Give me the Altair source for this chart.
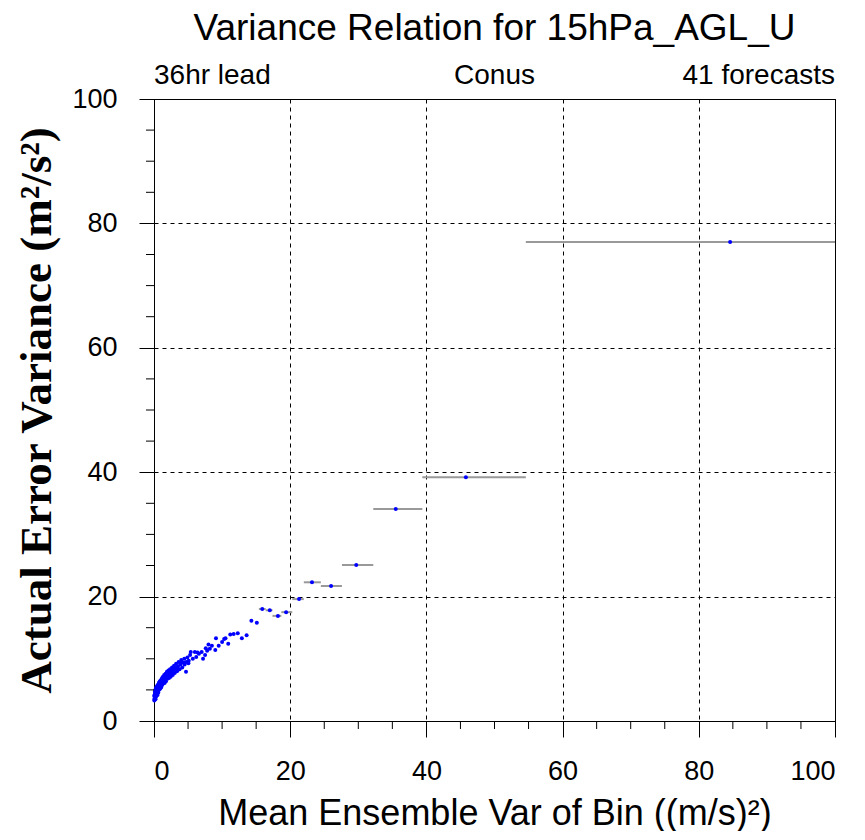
import altair as alt
import pandas as pd

# Scatter of bin means (mean ensemble variance, actual error variance)
bin_x = [0.05, 0.08, 0.10, 0.12, 0.15, 0.18, 0.20, 0.22, 0.25, 0.28, 0.30, 0.33, 0.36,
         0.40, 0.42, 0.45, 0.50, 0.52, 0.55, 0.60, 0.63, 0.67, 0.70, 0.74, 0.78, 0.82,
         0.86, 0.90, 0.95, 1.00, 1.05, 1.10, 1.15, 1.20, 1.26, 1.32, 1.38, 1.45, 1.50,
         1.56, 1.62, 1.70, 1.76, 1.83, 1.90, 1.97, 2.05, 2.12, 2.20, 2.28, 2.36, 2.45,
         2.55, 2.65, 2.75, 2.85, 2.95, 3.05, 3.15, 3.25, 3.38, 3.50, 3.62, 3.75, 3.88,
         4.00, 4.15, 4.30, 4.45, 4.70, 4.75, 4.90, 5.05, 5.10, 5.40, 5.70, 6.00, 6.20,
         6.60, 7.00, 7.20, 7.50, 7.60, 7.80, 8.20, 8.50, 9.00, 9.10, 9.50, 10.0, 10.3,
         10.5, 10.9, 11.7, 12.3, 12.9, 13.6, 14.3, 15.1, 15.9, 17.0, 18.2, 19.4, 21.3,
         23.2, 26.0, 29.7, 35.5, 45.8, 84.6,
         0.03, 0.07, 0.14, 0.24, 0.35, 0.47, 0.58, 0.72, 0.88, 1.08, 1.30, 1.58, 1.88,
         2.25, 2.60, 3.00, 3.45, 3.95, 4.50, 5.30, 6.40, 8.00, 11.2]
bin_y = [3.3, 4.2, 3.6, 4.7, 3.9, 5.0, 4.2, 3.5, 4.6, 5.3, 3.9, 4.8, 4.1,
         5.3, 5.6, 4.4, 5.2, 4.2, 5.8, 5.1, 4.6, 5.9, 5.0, 6.2, 5.1, 5.6,
         6.4, 5.2, 6.1, 6.5, 5.4, 6.7, 5.7, 6.9, 5.9, 7.1, 6.1, 6.6, 7.4,
         6.1, 6.8, 7.6, 6.4, 7.2, 7.9, 6.8, 7.3, 8.1, 6.9, 7.7, 8.3, 7.1,
         7.9, 8.6, 7.4, 8.2, 8.9, 7.7, 8.5, 9.2, 8.0, 8.8, 9.5, 8.3, 9.1,
         9.8, 8.6, 9.4, 10.0, 7.9, 9.5, 10.2, 9.3, 9.7, 11.1, 10.0, 11.1, 10.3,
         10.8, 11.1, 10.0, 10.6, 11.7, 11.3, 11.6, 12.1, 11.4, 13.3, 12.1, 12.7, 13.2,
         13.3, 12.4, 14.0, 14.1, 13.3, 13.8, 16.1, 15.8, 18.0, 17.8, 16.9, 17.5, 19.6,
         22.3, 21.7, 25.1, 34.1, 39.2, 77.0,
         4.0, 3.5, 4.4, 4.0, 5.0, 4.9, 5.5, 5.5, 5.8, 6.2, 6.5, 7.1, 7.4,
         7.4, 7.8, 8.3, 8.5, 9.4, 9.1, 10.6, 11.0, 12.3, 13.9]

# Bin extents drawn as horizontal bars (wider bins only)
range_y = [18.0, 17.8, 16.9, 17.5, 19.6, 22.3, 21.7, 25.1, 34.1, 39.2, 77.0]
range_lo = [15.4, 16.4, 17.4, 18.7, 20.3, 22.0, 24.5, 27.6, 32.2, 39.4, 54.6]
range_hi = [16.4, 17.4, 18.7, 20.3, 22.0, 24.5, 27.6, 32.2, 39.4, 54.6, 100.0]

major_ticks = [0, 20, 40, 60, 80, 100]
minor_ticks = [5, 10, 15, 25, 30, 35, 45, 50, 55, 65, 70, 75, 85, 90, 95]

title_text = "Variance Relation for 15hPa_AGL_U"
sub_left, sub_center, sub_right = "36hr lead", "Conus", "41 forecasts"
x_title = "Mean Ensemble Var of Bin ((m/s)²)"
y_title = "Actual Error Variance (m²/s²)"

pts = pd.DataFrame({"x": bin_x, "y": bin_y})
rng = pd.DataFrame({"lo": range_lo, "hi": range_hi, "y": range_y})
minor = pd.DataFrame({"v": minor_ticks})

W, H = 681, 622
xs = alt.Scale(domain=[0, 100], nice=False)
ys = alt.Scale(domain=[0, 100], nice=False)

xaxis = alt.Axis(values=major_ticks, title=x_title, grid=True, gridDash=[4, 4],
                 gridColor="black", gridOpacity=1, gridWidth=1,
                 domainColor="black", tickColor="black", tickSize=16,
                 labelFontSize=27, labelFont="Liberation Sans", labelColor="black",
                 labelPadding=21, titleFontSize=36, titleFont="Liberation Sans",
                 titleFontWeight="normal", titleColor="black", titlePadding=12)
yaxis = alt.Axis(values=major_ticks, title=y_title, grid=True, gridDash=[4, 4],
                 gridColor="black", gridOpacity=1, gridWidth=1,
                 domainColor="black", tickColor="black", tickSize=15,
                 labelFontSize=27, labelFont="Liberation Sans", labelColor="black",
                 labelPadding=22, titleFontSize=45, titleFont="Liberation Serif",
                 titleFontWeight="bold", titleColor="black", titlePadding=12)

bars = alt.Chart(rng).mark_rule(color="#999999", strokeWidth=2, clip=True).encode(
    x=alt.X("lo:Q", scale=xs, axis=xaxis),
    x2="hi:Q",
    y=alt.Y("y:Q", scale=ys, axis=yaxis),
)

dots = alt.Chart(pts).mark_circle(color="#0000ff", size=16, opacity=1).encode(
    x=alt.X("x:Q", scale=xs),
    y=alt.Y("y:Q", scale=ys),
)

minor_x = alt.Chart(minor).mark_rule(color="black", strokeWidth=1).encode(
    x=alt.X("v:Q", scale=xs),
    y=alt.value(H), y2=alt.value(H + 8),
)
minor_y = alt.Chart(minor).mark_rule(color="black", strokeWidth=1).encode(
    y=alt.Y("v:Q", scale=ys),
    x=alt.value(-8), x2=alt.value(0),
)

def label(txt, xpix, align):
    return alt.Chart(pd.DataFrame({"t": [txt]})).mark_text(
        align=align, baseline="alphabetic", fontSize=28, font="Liberation Sans", color="black"
    ).encode(text="t:N", x=alt.value(xpix), y=alt.value(-15))

subs = label(sub_left, 0, "left") + label(sub_center, W / 2 + 0, "center") + label(sub_right, W, "right")

chart = alt.layer(bars, dots, minor_x, minor_y, subs).properties(
    width=W, height=H,
    padding={"left": 6, "top": 2, "right": 5, "bottom": 0},
    title=alt.TitleParams(title_text, fontSize=37, font="Liberation Sans", fontWeight="normal",
                          color="black", offset=14, anchor="middle"),
).configure_view(stroke="black", strokeWidth=1)

chart.save("out.html", embed_options={"renderer": "svg", "actions": False})
